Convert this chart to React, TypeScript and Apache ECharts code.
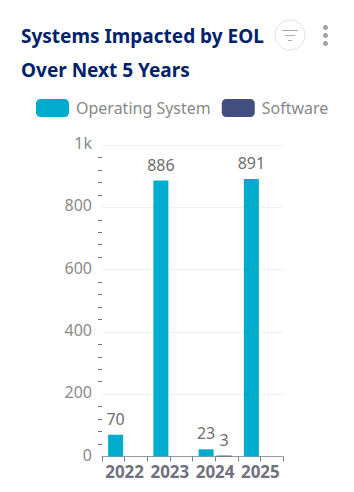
import React, { useEffect, useRef } from "react";
import * as echarts from "echarts";

const title = ["Systems Impacted by EOL", "Over Next 5 Years"];
const years = ["2022", "2023", "2024", "2025"];
const operatingSystem = [70, 886, 23, 891];
const software = [null, null, 3, null];
const font = "'Noto Sans', sans-serif";

export default function App() {
  const ref = useRef<HTMLDivElement>(null);
  useEffect(() => {
    document.body.style.margin = "0";
    const chart = echarts.init(ref.current!, undefined, { renderer: "svg" });
    const label = {
      show: true,
      position: "top" as const,
      color: "#6e6e6e",
      fontFamily: font,
      fontSize: 16,
      distance: 8,
    };
    chart.setOption({
      animation: false,
      backgroundColor: "#fff",
      grid: { left: 102, right: 71, top: 145, bottom: 35.5, containLabel: false },
      legend: {
        left: 31,
        top: 94,
        itemWidth: 33,
        itemHeight: 18,
        itemGap: 11,
        icon: "roundRect",
        textStyle: { color: "#888", fontFamily: font, fontSize: 16, padding: [0, 0, 3, 2] },
        data: ["Operating System", "Software"],
      },
      xAxis: [
        {
          type: "category",
          data: years,
          axisLine: { lineStyle: { color: "#9a9aa6", width: 1 } },
          axisTick: { show: true, length: 5, lineStyle: { color: "#7f7f8a" } },
          axisLabel: { color: "#71717e", fontFamily: font, fontWeight: "bold", fontSize: 17, margin: 6, interval: 0 },
        },
        {
          type: "category",
          data: years,
          position: "bottom",
          axisLine: { show: false },
          axisTick: { show: true, alignWithLabel: true, length: 5, lineStyle: { color: "#7f7f8a" } },
          axisLabel: { show: false },
        },
      ],
      yAxis: {
        type: "value",
        min: 0,
        max: 1000,
        interval: 200,
        axisLine: { show: false },
        axisTick: { show: false },
        minorTick: { show: true, splitNumber: 5, length: 4, lineStyle: { color: "#777" } },
        axisLabel: {
          color: "#8a8a8a",
          fontFamily: font,
          fontSize: 16,
          margin: 10,
          verticalAlign: "bottom",
          lineHeight: 4,
          formatter: (v: number) => (v >= 1000 ? v / 1000 + "k" : String(v)),
        },
        splitLine: { lineStyle: { color: "#edf0f8", width: 1 } },
      },
      series: [
        {
          name: "Operating System",
          type: "bar",
          data: operatingSystem,
          barWidth: 15,
          barGap: "20%",
          itemStyle: { color: "#00acce" },
          label,
        },
        {
          name: "Software",
          type: "bar",
          data: software,
          barWidth: 15,
          itemStyle: { color: "#434e80" },
          label,
        },
      ],
      graphic: [
        { type: "text", left: 21, top: 26, style: { text: title[0], fill: "#00226a", font: `bold 19px ${font}` } },
        { type: "text", left: 21, top: 60, style: { text: title[1], fill: "#00226a", font: `bold 19px ${font}` } },
        { type: "circle", shape: { cx: 290, cy: 35, r: 15 }, style: { fill: "#fff", stroke: "#e2e2e6", lineWidth: 1 } },
        { type: "line", shape: { x1: 282, y1: 30.5, x2: 298, y2: 30.5 }, style: { stroke: "#a9a9b0", lineWidth: 1 } },
        { type: "line", shape: { x1: 285, y1: 35.5, x2: 295, y2: 35.5 }, style: { stroke: "#a9a9b0", lineWidth: 1 } },
        { type: "line", shape: { x1: 288, y1: 40.5, x2: 292, y2: 40.5 }, style: { stroke: "#a9a9b0", lineWidth: 1 } },
        { type: "circle", shape: { cx: 325.5, cy: 27.5, r: 2.5 }, style: { fill: "#a3a3ab" } },
        { type: "circle", shape: { cx: 325.5, cy: 35.5, r: 2.5 }, style: { fill: "#a3a3ab" } },
        { type: "circle", shape: { cx: 325.5, cy: 43.5, r: 2.5 }, style: { fill: "#a3a3ab" } },
      ],
    });
    return () => chart.dispose();
  }, []);
  return <div ref={ref} style={{ width: 354, height: 492 }} />;
}
